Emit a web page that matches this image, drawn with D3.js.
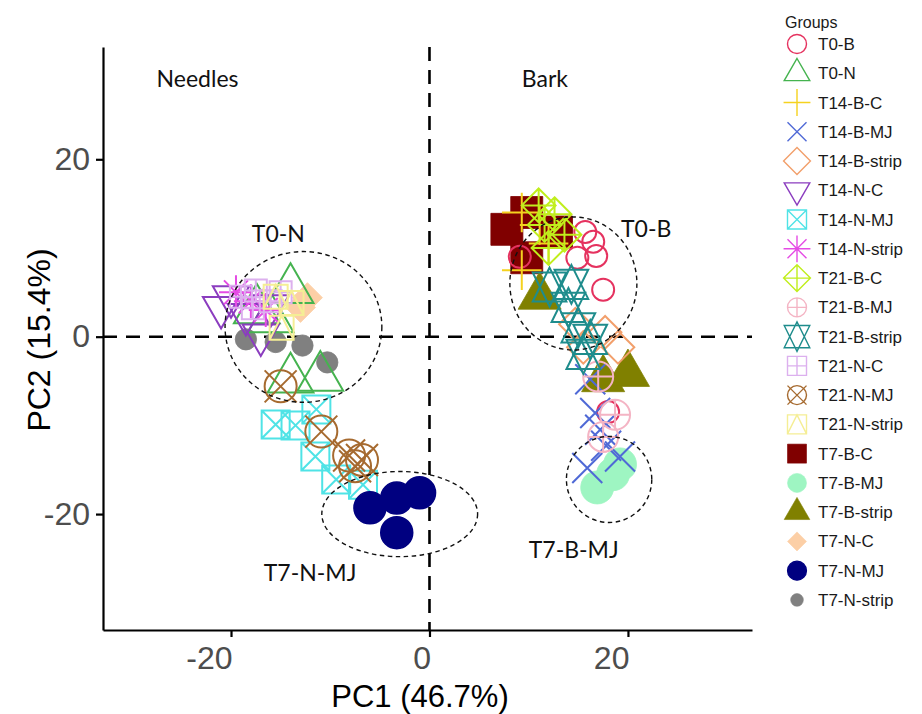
<!DOCTYPE html>
<html>
<head>
<meta charset="utf-8">
<script src="https://cdn.jsdelivr.net/npm/d3@7"></script>
<style>
  html, body { margin: 0; padding: 0; background: #ffffff; }
  svg { display: block; }
</style>
</head>
<body>
<div id="chart"></div>
<script>
// ---------------- DATA ----------------
const groups = ["T0-B","T0-N","T14-B-C","T14-B-MJ","T14-B-strip","T14-N-C","T14-N-MJ","T14-N-strip",
  "T21-B-C","T21-B-MJ","T21-B-strip","T21-N-C","T21-N-MJ","T21-N-strip",
  "T7-B-C","T7-B-MJ","T7-B-strip","T7-N-C","T7-N-MJ","T7-N-strip"];

const pc1 = [
  [15.7, 16.5, 14.9, 16.8, 17.5, 9.1, 18.0],      // T0-B
  [-14.0, -17.4, -16.0, -14.0, -11.0],            // T0-N
  [11.1, 9.3, 9.3, 12.0],                         // T14-B-C
  [16.2, 16.7, 17.2, 15.9, 19.2, 17.8],           // T14-B-MJ
  [14.7, 17.7, 15.5, 19.0],                       // T14-B-strip
  [-21.0, -20.0, -18.5, -17.0, -16.0],            // T14-N-C
  [-15.5, -11.4, -13.5, -11.5, -9.4, -6.7],       // T14-N-MJ
  [-18.0, -16.5, -19.5],                          // T14-N-strip
  [12.6, 11.6, 13.6, 11.0, 12.0],                 // T21-B-C
  [17.0, 18.7, 17.5],                             // T21-B-MJ
  [12.1, 14.3, 14.0, 15.0, 16.2, 15.5],           // T21-B-strip
  [-19.0, -17.5, -16.0, -17.8, -15.0],            // T21-N-C
  [-15.0, -10.9, -8.1, -6.8, -7.5],               // T21-N-MJ
  [-13.9, -14.9, -15.5],                          // T21-N-strip
  [7.8, 9.8, 9.8, 12.8],                          // T7-B-C
  [16.9, 19.2, 18.5],                             // T7-B-MJ
  [11.1, 17.5, 20.0],                             // T7-B-strip
  [-12.3, -13.0],                                 // T7-N-C
  [-6.0, -3.3, -1.0, -3.3],                       // T7-N-MJ
  [-18.5, -15.5, -12.8, -10.3]                    // T7-N-strip
];
const pc2 = [
  [11.8, 10.7, 8.9, 9.1, 5.3, 9.0, -8.5],
  [5.3, 3.0, 2.0, -4.8, -4.6],
  [12.6, 14.0, 7.5, 10.5],
  [-4.8, -8.6, -10.5, -14.8, -13.5, -12.3],
  [1.4, 0.5, -1.2, -1.2],
  [3.3, 4.5, 2.5, 0.2, 3.5],
  [-9.9, -8.2, -10.0, -13.5, -16.1, -16.7],
  [4.0, 3.0, 5.0],
  [13.8, 12.6, 11.5, 14.8, 10.0],
  [-4.5, -8.8, -11.3],
  [5.6, 5.9, 3.3, 1.0, -0.3, -2.0],
  [4.5, 5.2, 4.0, 3.2, 5.0],
  [-5.6, -10.7, -13.4, -13.9, -14.6],
  [3.8, 1.0, 4.5],
  [12.1, 14.0, 8.9, 11.8],
  [-17.0, -14.4, -15.5],
  [4.5, -4.8, -4.2],
  [4.4, 3.3],
  [-19.3, -18.2, -17.6, -22.1],
  [-0.3, -0.6, -1.0, -2.9]
];

const xTicks = [-20, 0, 20];
const yTicks = [-20, 0, 20];

// region labels
const regionLabels = ["Needles", "Bark"];
const regionX = [-27.5, 9.3];
const regionY = [28.2, 28.2];

// dashed group ellipses (data units)
const ellipseNames = ["T0-N", "T0-B", "T7-N-MJ", "T7-B-MJ"];
const ellipseCx = [-12.7, 14.5, -3.0, 18.1];
const ellipseCy = [1.1, 6.0, -20.0, -16.1];
const ellipseRx = [7.9, 6.4, 7.85, 4.3];
const ellipseRy = [8.5, 7.5, 4.8, 4.85];
const ellipseLabelX = [-17.9, 19.3, -16.7, 10.0];
const ellipseLabelY = [10.7, 11.2, -27.5, -24.9];

// ---------------- STYLE ----------------
const shapeCode = [1,2,3,4,5,6,7,8,9,10,11,12,13,14,15,16,17,18,19,20];
const colors = ["#e5325f","#45b34f","#f5d21f","#4f69d6","#f29f6b","#8b3dbf","#4fe3e6","#e54be5",
  "#c0ee1c","#f4b4c4","#1e8c8c","#dcb0ee","#a66a2f","#f5ee95",
  "#800000","#9ef5c2","#808000","#fccfa6","#000080","#808080"];
const plotR = [11, 17, 14, 15, 11.5, 13.5, 14, 12, 12, 15, 12.5, 11, 16, 12, 16, 16.5, 16, 15, 16, 16];
const drawOrder = [14, 16, 15, 17, 19, 0,1,2,3,4,5,6,7,8,9,10,11,12,13, 18];

// ---------------- SHAPES (R pch geometry) ----------------
const TRC0 = 1.5551203, TRC1 = 1.3467736, TRC2 = 0.7775602, S2 = Math.SQRT2;
function shapePath(code, r) {
  const circ = (rr) => `M${-rr},0A${rr},${rr} 0 1,0 ${rr},0A${rr},${rr} 0 1,0 ${-rr},0Z`;
  const line = (x1,y1,x2,y2) => `M${x1},${y1}L${x2},${y2}`;
  const sq = (h) => `M${-h},${-h}L${h},${-h}L${h},${h}L${-h},${h}Z`;
  const dia = (h) => `M0,${-h}L${h},0L0,${h}L${-h},0Z`;
  const triUp = () => `M0,${-TRC0*r}L${TRC1*r},${TRC2*r}L${-TRC1*r},${TRC2*r}Z`;
  const triDn = () => `M0,${TRC0*r}L${TRC1*r},${-TRC2*r}L${-TRC1*r},${-TRC2*r}Z`;
  const plus = (h) => line(-h,0,h,0) + line(0,-h,0,h);
  const cross = (h) => line(-h,-h,h,h) + line(-h,h,h,-h);
  switch (code) {
    case 1: return {d: circ(r), fill: false};
    case 2: return {d: triUp(), fill: false};
    case 3: return {d: plus(S2*r), fill: false};
    case 4: return {d: cross(r), fill: false};
    case 5: return {d: dia(S2*r), fill: false};
    case 6: return {d: triDn(), fill: false};
    case 7: return {d: sq(r) + cross(r), fill: false};
    case 8: return {d: cross(r) + plus(S2*r), fill: false};
    case 9: return {d: dia(S2*r) + plus(S2*r), fill: false};
    case 10: return {d: circ(r) + plus(r), fill: false};
    case 11: {
      const r1 = TRC0*r, yc = 0.5*(TRC2*r + TRC0*r), xc = TRC1*r;
      return {d: `M0,${r1}L${xc},${-yc}L${-xc},${-yc}Z` + `M0,${-r1}L${xc},${yc}L${-xc},${yc}Z`, fill: false};
    }
    case 12: return {d: sq(r) + plus(r), fill: false};
    case 13: return {d: circ(r) + cross(r), fill: false};
    case 14: return {d: sq(r) + `M${-r},${r}L0,${-r}L${r},${r}`, fill: false};
    case 15: return {d: sq(r), fill: true};
    case 16: return {d: circ(r), fill: true};
    case 17: return {d: triUp(), fill: true};
    case 18: return {d: dia(r), fill: true};
    case 19: return {d: circ(r), fill: true};
    case 20: return {d: circ(r*2/3), fill: true};
  }
}

// ---------------- CHART ----------------
const W = 922, H = 714;
const svg = d3.select("#chart").append("svg").attr("width", W).attr("height", H);

const x = d3.scaleLinear().domain([-32.9, 32.5]).range([103, 752]);
const y = d3.scaleLinear().domain([-33.07, 32.66]).range([630, 47]);

const AX_FONT = "'Liberation Sans', Arial, sans-serif";
const LBL_FONT = "Lato, 'Open Sans', sans-serif";

// dashed zero lines
svg.append("line").attr("x1", x(0)).attr("x2", x(0)).attr("y1", y.range()[1]).attr("y2", y.range()[0])
  .attr("stroke", "#000").attr("stroke-width", 2.6).attr("stroke-dasharray", "14,9");
svg.append("line").attr("x1", x.range()[0]).attr("x2", x.range()[1]).attr("y1", y(0)).attr("y2", y(0))
  .attr("stroke", "#000").attr("stroke-width", 2.6).attr("stroke-dasharray", "14,9");

// points
const gPts = svg.append("g");
drawOrder.forEach(gi => {
  const code = shapeCode[gi];
  const sp = shapePath(code, plotR[gi]);
  pc1[gi].forEach((v, k) => {
    gPts.append("path")
      .attr("d", sp.d)
      .attr("transform", `translate(${x(v)},${y(pc2[gi][k])})`)
      .attr("fill", sp.fill ? colors[gi] : "none")
      .attr("stroke", colors[gi])
      .attr("stroke-width", sp.fill ? (code === 19 ? 1.5 : 0.8) : 2)
      .attr("stroke-linejoin", "miter");
  });
});

// ellipses
ellipseNames.forEach((n, i) => {
  svg.append("ellipse")
    .attr("cx", x(ellipseCx[i])).attr("cy", y(ellipseCy[i]))
    .attr("rx", x(ellipseCx[i] + ellipseRx[i]) - x(ellipseCx[i]))
    .attr("ry", y(ellipseCy[i]) - y(ellipseCy[i] + ellipseRy[i]))
    .attr("fill", "none").attr("stroke", "#111").attr("stroke-width", 1.4)
    .attr("stroke-dasharray", "4.5,3.5");
  svg.append("text")
    .attr("x", x(ellipseLabelX[i])).attr("y", y(ellipseLabelY[i]))
    .attr("font-family", LBL_FONT).attr("font-size", 23).attr("fill", "#111")
    .text(n);
});

// region labels
regionLabels.forEach((t, i) => {
  svg.append("text")
    .attr("x", x(regionX[i])).attr("y", y(regionY[i]))
    .attr("font-family", LBL_FONT).attr("font-size", 23).attr("fill", "#111")
    .text(t);
});

// axes
const xAxis = svg.append("g").attr("transform", `translate(0,${y.range()[0]})`)
  .call(d3.axisBottom(x).tickValues(xTicks).tickSize(7).tickSizeOuter(0).tickFormat(d => String(d)));
const yAxis = svg.append("g").attr("transform", `translate(${x.range()[0]},0)`)
  .call(d3.axisLeft(y).tickValues(yTicks).tickSize(7).tickSizeOuter(0).tickFormat(d => String(d)));
[xAxis, yAxis].forEach(a => {
  a.select(".domain").attr("stroke", "#000").attr("stroke-width", 2.2);
  a.selectAll(".tick line").attr("stroke", "#000").attr("stroke-width", 2.2);
  a.selectAll(".tick text").attr("font-family", AX_FONT).attr("font-size", 32).attr("fill", "#4d4d4d");
});
xAxis.selectAll(".tick text").attr("text-anchor", "end").attr("x", 1).attr("y", 16);
yAxis.selectAll(".tick text").attr("x", -13);

// axis titles
svg.append("text").attr("x", 420).attr("y", 707).attr("text-anchor", "middle")
  .attr("font-family", AX_FONT).attr("font-size", 31).attr("fill", "#000").text("PC1 (46.7%)");
svg.append("text").attr("transform", "translate(50,340) rotate(-90)").attr("text-anchor", "middle")
  .attr("font-family", AX_FONT).attr("font-size", 32).attr("fill", "#000").text("PC2 (15.4%)");

// legend
const lg = svg.append("g");
lg.append("text").attr("x", 785).attr("y", 28).attr("font-family", AX_FONT).attr("font-size", 16)
  .attr("fill", "#1a1a1a").text("Groups");
groups.forEach((g, i) => {
  const cy = 44 + i * 29.26;
  const code = shapeCode[i];
  const sp = shapePath(code, 9.5);
  lg.append("path").attr("d", sp.d).attr("transform", `translate(797,${cy})`)
    .attr("fill", sp.fill ? colors[i] : "none").attr("stroke", colors[i])
    .attr("stroke-width", sp.fill ? (code === 19 ? 1.2 : 0.6) : 1.4);
  lg.append("text").attr("x", 818).attr("y", cy + 6).attr("font-family", AX_FONT).attr("font-size", 17)
    .attr("fill", "#1a1a1a").text(g);
});
</script>
</body>
</html>
